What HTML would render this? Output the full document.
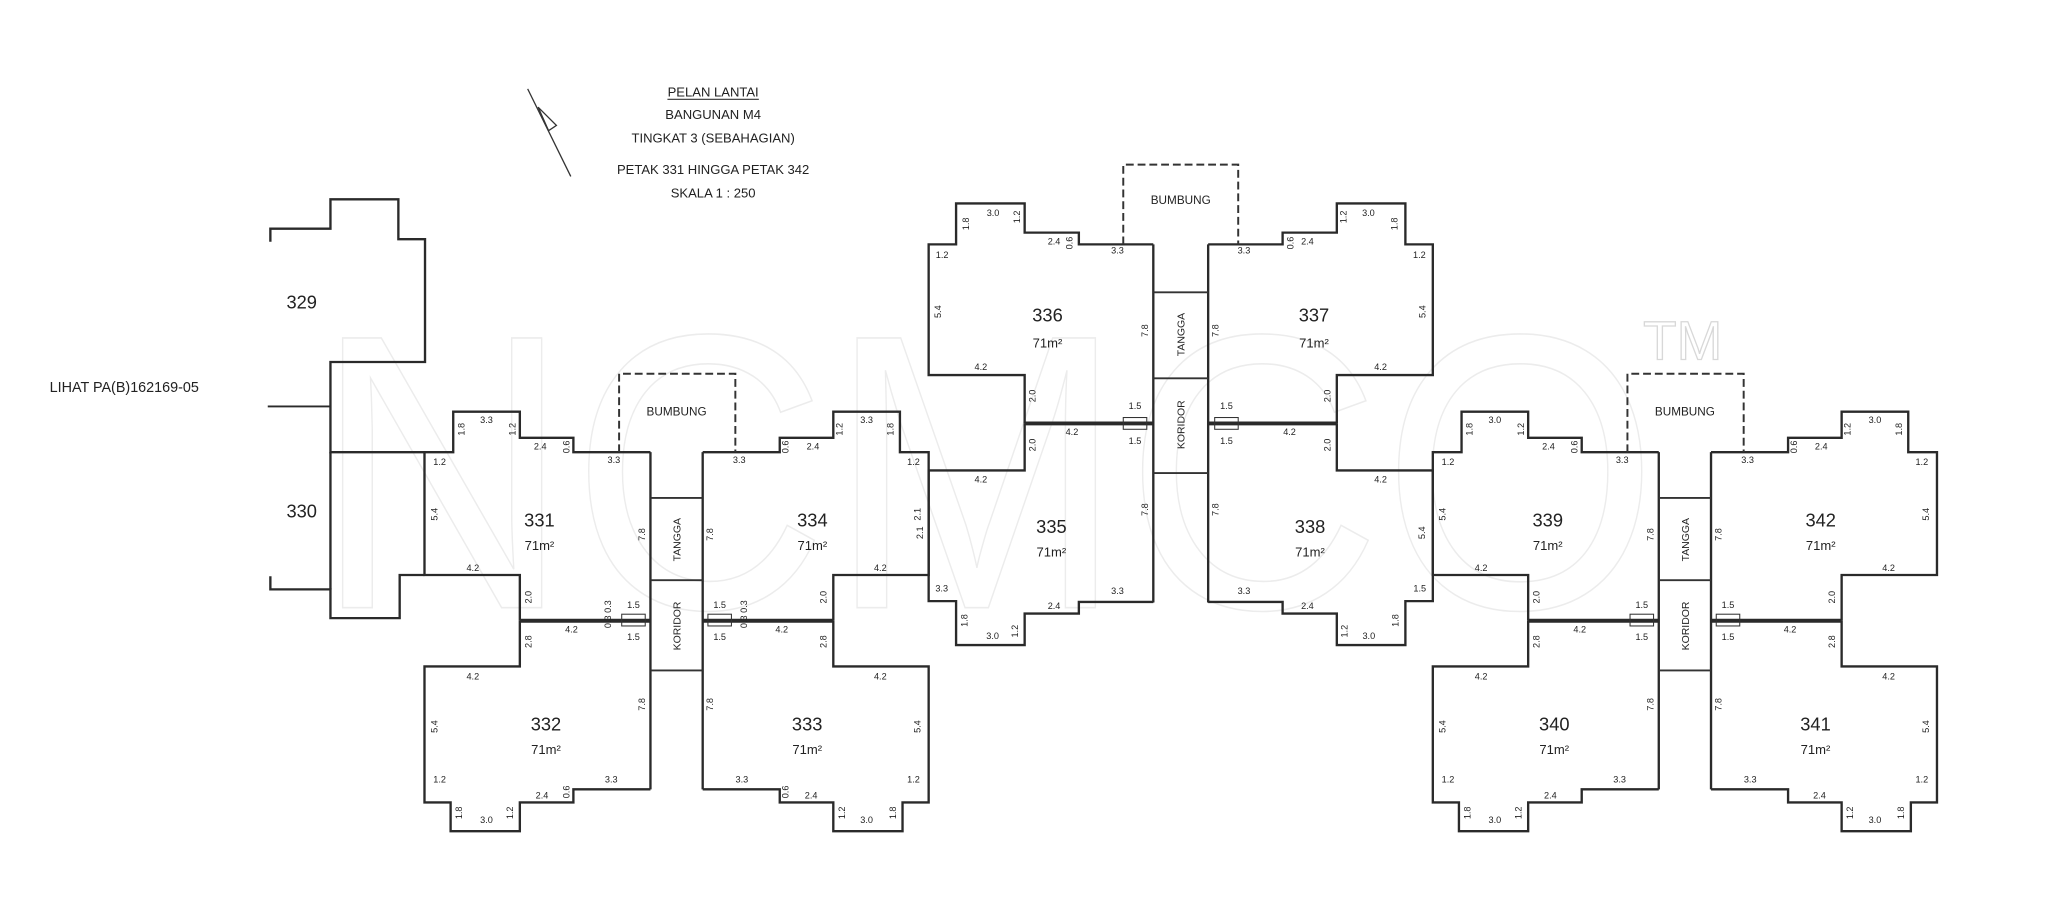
<!DOCTYPE html>
<html><head><meta charset="utf-8"><style>
html,body{margin:0;padding:0;background:#fff;width:2048px;height:920px;overflow:hidden}
svg{display:block}
text{font-family:"Liberation Sans",sans-serif;fill:#222}
.d{font-size:7px;text-anchor:middle;dominant-baseline:middle}
.n{font-size:14px;text-anchor:middle}
.a{font-size:10px;text-anchor:middle}
.w{fill:none;stroke:#2a2a2a;stroke-width:1.8;stroke-linejoin:miter}
.ww{fill:none;stroke:#2a2a2a;stroke-width:3}
.c{fill:none;stroke:#333;stroke-width:1.4}
.b{fill:none;stroke:#333;stroke-width:1.5;stroke-dasharray:6 3}
</style></head><body>
<svg width="2048" height="920" viewBox="0 0 1568 704" preserveAspectRatio="none" xmlns="http://www.w3.org/2000/svg">
<text x="240" y="465" style="font-size:300px;fill:none;stroke:#ececec;stroke-width:1.2" textLength="1030" lengthAdjust="spacingAndGlyphs">NCMCO</text>
<text x="1258" y="275" style="font-size:42px;fill:none;stroke:#d8d8d8;stroke-width:1">TM</text>

<line x1="404" y1="68" x2="437" y2="135" stroke="#333" stroke-width="1"/>
<path d="M412,82 L420,100 L426,96 Z" fill="none" stroke="#333" stroke-width="1"/>
<text x="546" y="74" class="a">PELAN LANTAI</text>
<line x1="511" y1="76" x2="581" y2="76" stroke="#333" stroke-width="0.8"/>
<text x="546" y="91" class="a">BANGUNAN M4</text>
<text x="546" y="109" class="a">TINGKAT 3 (SEBAHAGIAN)</text>
<text x="546" y="133" class="a">PETAK 331 HINGGA PETAK 342</text>
<text x="546" y="151" class="a">SKALA 1 : 250</text>

<path class="w" d="M207,185 L207,175 L253,175 L253,152.5 L305,152.5 L305,183 L325.4,183 L325.4,277 L253,277 L253,346 L325,346"/>
<path class="w" d="M207,441 L207,451 L253,451 L253,473 L306,473 L306,440 L325,440"/>
<line x1="253" y1="346" x2="253" y2="451" stroke="#2a2a2a" stroke-width="1.8"/>
<line x1="205" y1="311" x2="253" y2="311" stroke="#2a2a2a" stroke-width="1.4"/>
<text x="231" y="236" style="font-size:14px" text-anchor="middle">329</text>
<text x="231" y="396" style="font-size:14px" text-anchor="middle">330</text>
<text x="38" y="300" style="font-size:11px">LIHAT PA(B)162169-05</text>

<g id="L">
<path class="w" d="M498,346 L439,346 L439,335 L398,335 L398,315 L347,315 L347,346 L325,346 L325,440 L398,440 L398,475"/>
<path class="w" d="M398,475 L398,510 L325,510 L325,614 L345,614 L345,636 L398,636 L398,614 L439,614 L439,604 L498,604"/>
<path class="w" d="M538,346 L597,346 L597,335 L638,335 L638,315 L689,315 L689,346 L711,346 L711,440 L638,440 L638,475"/>
<path class="w" d="M638,475 L638,510 L711,510 L711,614 L691,614 L691,636 L638,636 L638,614 L597,614 L597,604 L538,604"/>
<line class="w" x1="498" y1="346" x2="498" y2="604"/>
<line class="w" x1="538" y1="346" x2="538" y2="604"/>
<line class="ww" x1="398" y1="475" x2="498" y2="475"/>
<line class="ww" x1="538" y1="475" x2="638" y2="475"/>
<line class="c" x1="498" y1="381" x2="538" y2="381"/>
<line class="c" x1="498" y1="444" x2="538" y2="444"/>
<line class="c" x1="498" y1="513" x2="538" y2="513"/>
<path class="b" d="M474,346 L474,286 L563,286 L563,346"/>
<text x="518" y="318" style="font-size:9px" text-anchor="middle">BUMBUNG</text>
<text transform="translate(521,413) rotate(-90)" style="font-size:8px" text-anchor="middle">TANGGA</text>
<text transform="translate(521,479) rotate(-90)" style="font-size:8px" text-anchor="middle">KORIDOR</text>
<rect x="476" y="470" width="18" height="9" fill="none" stroke="#333" stroke-width="0.8"/>
<rect x="542" y="470" width="18" height="9" fill="none" stroke="#333" stroke-width="0.8"/>
<text class="d" transform="translate(353.7,328.5) rotate(-90)">1.8</text>
<text class="d" x="372.5" y="321.7">3.3</text>
<text class="d" transform="translate(393,328.5) rotate(-90)">1.2</text>
<text class="d" x="413.6" y="342">2.4</text>
<text class="d" transform="translate(434,342) rotate(-90)">0.6</text>
<text class="d" x="470" y="352.4">3.3</text>
<text class="d" x="336.6" y="354">1.2</text>
<text class="d" transform="translate(333,393.5) rotate(-90)">5.4</text>
<text class="d" x="362" y="435">4.2</text>
<text class="d" transform="translate(405,457) rotate(-90)">2.0</text>
<text class="d" transform="translate(492,409) rotate(-90)">7.8</text>
<text class="d" x="437.5" y="482">4.2</text>
<text class="d" x="485" y="463.5">1.5</text>
<text class="d" x="485" y="488">1.5</text>
<text class="d" transform="translate(466,470) rotate(-90)">0.3 0.3</text>
<text class="d" transform="translate(405,491) rotate(-90)">2.8</text>
<text class="d" x="362" y="518">4.2</text>
<text class="d" transform="translate(333,556) rotate(-90)">5.4</text>
<text class="d" transform="translate(492,539) rotate(-90)">7.8</text>
<text class="d" x="336.6" y="597">1.2</text>
<text class="d" x="468" y="597">3.3</text>
<text class="d" x="415" y="609">2.4</text>
<text class="d" transform="translate(434,606) rotate(-90)">0.6</text>
<text class="d" transform="translate(352,622) rotate(-90)">1.8</text>
<text class="d" x="372.5" y="628">3.0</text>
<text class="d" transform="translate(391,622) rotate(-90)">1.2</text>
<text class="d" transform="translate(682.3,328.5) rotate(-90)">1.8</text>
<text class="d" x="663.5" y="321.7">3.3</text>
<text class="d" transform="translate(643,328.5) rotate(-90)">1.2</text>
<text class="d" x="622.4" y="342">2.4</text>
<text class="d" transform="translate(602,342) rotate(-90)">0.6</text>
<text class="d" x="566" y="352.4">3.3</text>
<text class="d" x="699.4" y="354">1.2</text>
<text class="d" transform="translate(703,393.5) rotate(-90)">2.1</text>
<text class="d" x="674" y="435">4.2</text>
<text class="d" transform="translate(631,457) rotate(-90)">2.0</text>
<text class="d" transform="translate(544,409) rotate(-90)">7.8</text>
<text class="d" x="598.5" y="482">4.2</text>
<text class="d" x="551" y="463.5">1.5</text>
<text class="d" x="551" y="488">1.5</text>
<text class="d" transform="translate(570,470) rotate(-90)">0.3 0.3</text>
<text class="d" transform="translate(631,491) rotate(-90)">2.8</text>
<text class="d" x="674" y="518">4.2</text>
<text class="d" transform="translate(703,556) rotate(-90)">5.4</text>
<text class="d" transform="translate(544,539) rotate(-90)">7.8</text>
<text class="d" x="699.4" y="597">1.2</text>
<text class="d" x="568" y="597">3.3</text>
<text class="d" x="621" y="609">2.4</text>
<text class="d" transform="translate(602,606) rotate(-90)">0.6</text>
<text class="d" transform="translate(684,622) rotate(-90)">1.8</text>
<text class="d" x="663.5" y="628">3.0</text>
<text class="d" transform="translate(645,622) rotate(-90)">1.2</text>
</g>
<text class="n" x="413" y="403">331</text><text class="a" x="413" y="421">71m²</text>
<text class="n" x="418" y="559">332</text><text class="a" x="418" y="577">71m²</text>
<text class="n" x="618" y="559">333</text><text class="a" x="618" y="577">71m²</text>
<text class="n" x="622" y="403">334</text><text class="a" x="622" y="421">71m²</text>

<g transform="translate(772,0)">
<path class="w" d="M498,346 L439,346 L439,335 L398,335 L398,315 L347,315 L347,346 L325,346 L325,440 L398,440 L398,475"/>
<path class="w" d="M398,475 L398,510 L325,510 L325,614 L345,614 L345,636 L398,636 L398,614 L439,614 L439,604 L498,604"/>
<path class="w" d="M538,346 L597,346 L597,335 L638,335 L638,315 L689,315 L689,346 L711,346 L711,440 L638,440 L638,475"/>
<path class="w" d="M638,475 L638,510 L711,510 L711,614 L691,614 L691,636 L638,636 L638,614 L597,614 L597,604 L538,604"/>
<line class="w" x1="498" y1="346" x2="498" y2="604"/>
<line class="w" x1="538" y1="346" x2="538" y2="604"/>
<line class="ww" x1="398" y1="475" x2="498" y2="475"/>
<line class="ww" x1="538" y1="475" x2="638" y2="475"/>
<line class="c" x1="498" y1="381" x2="538" y2="381"/>
<line class="c" x1="498" y1="444" x2="538" y2="444"/>
<line class="c" x1="498" y1="513" x2="538" y2="513"/>
<path class="b" d="M474,346 L474,286 L563,286 L563,346"/>
<text x="518" y="318" style="font-size:9px" text-anchor="middle">BUMBUNG</text>
<text transform="translate(521,413) rotate(-90)" style="font-size:8px" text-anchor="middle">TANGGA</text>
<text transform="translate(521,479) rotate(-90)" style="font-size:8px" text-anchor="middle">KORIDOR</text>
<rect x="476" y="470" width="18" height="9" fill="none" stroke="#333" stroke-width="0.8"/>
<rect x="542" y="470" width="18" height="9" fill="none" stroke="#333" stroke-width="0.8"/>
<text class="d" transform="translate(353.7,328.5) rotate(-90)">1.8</text>
<text class="d" x="372.5" y="321.7">3.0</text>
<text class="d" transform="translate(393,328.5) rotate(-90)">1.2</text>
<text class="d" x="413.6" y="342">2.4</text>
<text class="d" transform="translate(434,342) rotate(-90)">0.6</text>
<text class="d" x="470" y="352.4">3.3</text>
<text class="d" x="336.6" y="354">1.2</text>
<text class="d" transform="translate(333,393.5) rotate(-90)">5.4</text>
<text class="d" x="362" y="435">4.2</text>
<text class="d" transform="translate(405,457) rotate(-90)">2.0</text>
<text class="d" transform="translate(492,409) rotate(-90)">7.8</text>
<text class="d" x="437.5" y="482">4.2</text>
<text class="d" x="485" y="463.5">1.5</text>
<text class="d" x="485" y="488">1.5</text>
<text class="d" transform="translate(405,491) rotate(-90)">2.8</text>
<text class="d" x="362" y="518">4.2</text>
<text class="d" transform="translate(333,556) rotate(-90)">5.4</text>
<text class="d" transform="translate(492,539) rotate(-90)">7.8</text>
<text class="d" x="336.6" y="597">1.2</text>
<text class="d" x="468" y="597">3.3</text>
<text class="d" x="415" y="609">2.4</text>
<text class="d" transform="translate(352,622) rotate(-90)">1.8</text>
<text class="d" x="372.5" y="628">3.0</text>
<text class="d" transform="translate(391,622) rotate(-90)">1.2</text>
<text class="d" transform="translate(682.3,328.5) rotate(-90)">1.8</text>
<text class="d" x="663.5" y="321.7">3.0</text>
<text class="d" transform="translate(643,328.5) rotate(-90)">1.2</text>
<text class="d" x="622.4" y="342">2.4</text>
<text class="d" transform="translate(602,342) rotate(-90)">0.6</text>
<text class="d" x="566" y="352.4">3.3</text>
<text class="d" x="699.4" y="354">1.2</text>
<text class="d" transform="translate(703,393.5) rotate(-90)">5.4</text>
<text class="d" x="674" y="435">4.2</text>
<text class="d" transform="translate(631,457) rotate(-90)">2.0</text>
<text class="d" transform="translate(544,409) rotate(-90)">7.8</text>
<text class="d" x="598.5" y="482">4.2</text>
<text class="d" x="551" y="463.5">1.5</text>
<text class="d" x="551" y="488">1.5</text>
<text class="d" transform="translate(631,491) rotate(-90)">2.8</text>
<text class="d" x="674" y="518">4.2</text>
<text class="d" transform="translate(703,556) rotate(-90)">5.4</text>
<text class="d" transform="translate(544,539) rotate(-90)">7.8</text>
<text class="d" x="699.4" y="597">1.2</text>
<text class="d" x="568" y="597">3.3</text>
<text class="d" x="621" y="609">2.4</text>
<text class="d" transform="translate(684,622) rotate(-90)">1.8</text>
<text class="d" x="663.5" y="628">3.0</text>
<text class="d" transform="translate(645,622) rotate(-90)">1.2</text>
</g>
<text class="n" x="1185" y="403">339</text><text class="a" x="1185" y="421">71m²</text>
<text class="n" x="1190" y="559">340</text><text class="a" x="1190" y="577">71m²</text>
<text class="n" x="1390" y="559">341</text><text class="a" x="1390" y="577">71m²</text>
<text class="n" x="1394" y="403">342</text><text class="a" x="1394" y="421">71m²</text>

<path class="w" d="M883,187 L826,187 L826,178 L784.5,178 L784.5,155.7 L732,155.7 L732,187 L711,187 L711,287 L784.5,287 L784.5,324"/>
<path class="w" d="M784.5,324 L784.5,360 L711,360 L711,460 L732,460 L732,493.6 L784.5,493.6 L784.5,469.5 L826,469.5 L826,460.6 L883,460.6"/>
<path class="w" d="M925,187 L982,187 L982,178 L1023.5,178 L1023.5,155.7 L1076,155.7 L1076,187 L1097,187 L1097,287 L1023.5,287 L1023.5,324"/>
<path class="w" d="M1023.5,324 L1023.5,360 L1097,360 L1097,460 L1076,460 L1076,493.6 L1023.5,493.6 L1023.5,469.5 L982,469.5 L982,460.6 L925,460.6"/>
<line class="w" x1="883" y1="187" x2="883" y2="461"/>
<line class="w" x1="925" y1="187" x2="925" y2="461"/>
<line class="ww" x1="784.5" y1="324" x2="883" y2="324"/>
<line class="ww" x1="925" y1="324" x2="1023.5" y2="324"/>
<line class="c" x1="883" y1="223.7" x2="925" y2="223.7"/>
<line class="c" x1="883" y1="289.5" x2="925" y2="289.5"/>
<line class="c" x1="883" y1="362" x2="925" y2="362"/>
<path class="b" d="M860,187 L860,126 L948,126 L948,187"/>
<text x="904" y="156" style="font-size:9px" text-anchor="middle">BUMBUNG</text>
<text transform="translate(907,256) rotate(-90)" style="font-size:8px" text-anchor="middle">TANGGA</text>
<text transform="translate(907,325) rotate(-90)" style="font-size:8px" text-anchor="middle">KORIDOR</text>
<rect x="860" y="319.5" width="18" height="9" fill="none" stroke="#333" stroke-width="0.8"/>
<rect x="930" y="319.5" width="18" height="9" fill="none" stroke="#333" stroke-width="0.8"/>
<text class="n" x="802" y="246">336</text><text class="a" x="802" y="266">71m²</text>
<text class="n" x="805" y="408">335</text><text class="a" x="805" y="426">71m²</text>
<text class="n" x="1006" y="246">337</text><text class="a" x="1006" y="266">71m²</text>
<text class="n" x="1003" y="408">338</text><text class="a" x="1003" y="426">71m²</text>
<text class="d" transform="translate(740,171.3) rotate(-90)">1.8</text>
<text class="d" x="760.3" y="163.3">3.0</text>
<text class="d" transform="translate(779,166) rotate(-90)">1.2</text>
<text class="d" x="807" y="185.3">2.4</text>
<text class="d" transform="translate(819.4,186) rotate(-90)">0.6</text>
<text class="d" x="855.6" y="192">3.3</text>
<text class="d" x="721.3" y="195.5">1.2</text>
<text class="d" transform="translate(718.6,238.5) rotate(-90)">5.4</text>
<text class="d" transform="translate(877,253) rotate(-90)">7.8</text>
<text class="d" x="751" y="281.4">4.2</text>
<text class="d" transform="translate(791,303) rotate(-90)">2.0</text>
<text class="d" x="820.7" y="331">4.2</text>
<text class="d" x="869" y="311">1.5</text>
<text class="d" x="869" y="338">1.5</text>
<text class="d" transform="translate(791,340.5) rotate(-90)">2.0</text>
<text class="d" x="751" y="367.4">4.2</text>
<text class="d" transform="translate(705,407.7) rotate(-90)">2.1</text>
<text class="d" transform="translate(877,390) rotate(-90)">7.8</text>
<text class="d" x="721" y="450.6">3.3</text>
<text class="d" x="855.6" y="452.8">3.3</text>
<text class="d" x="807" y="464">2.4</text>
<text class="d" transform="translate(738.8,474.8) rotate(-90)">1.8</text>
<text class="d" x="760" y="487">3.0</text>
<text class="d" transform="translate(777.7,483) rotate(-90)">1.2</text>
<text class="d" transform="translate(1068,171.3) rotate(-90)">1.8</text>
<text class="d" x="1047.7" y="163.3">3.0</text>
<text class="d" transform="translate(1029,166) rotate(-90)">1.2</text>
<text class="d" x="1001" y="185.3">2.4</text>
<text class="d" transform="translate(988.6,186) rotate(-90)">0.6</text>
<text class="d" x="952.4" y="192">3.3</text>
<text class="d" x="1086.7" y="195.5">1.2</text>
<text class="d" transform="translate(1089.4,238.5) rotate(-90)">5.4</text>
<text class="d" transform="translate(931,253) rotate(-90)">7.8</text>
<text class="d" x="1057" y="281.4">4.2</text>
<text class="d" transform="translate(1017,303) rotate(-90)">2.0</text>
<text class="d" x="987.3" y="331">4.2</text>
<text class="d" x="939" y="311">1.5</text>
<text class="d" x="939" y="338">1.5</text>
<text class="d" transform="translate(1017,340.5) rotate(-90)">2.0</text>
<text class="d" x="1057" y="367.4">4.2</text>
<text class="d" transform="translate(1089,407.7) rotate(-90)">5.4</text>
<text class="d" transform="translate(931,390) rotate(-90)">7.8</text>
<text class="d" x="1087" y="450.6">1.5</text>
<text class="d" x="952.4" y="452.8">3.3</text>
<text class="d" x="1001" y="464">2.4</text>
<text class="d" transform="translate(1069,474.8) rotate(-90)">1.8</text>
<text class="d" x="1048" y="487">3.0</text>
<text class="d" transform="translate(1030,483) rotate(-90)">1.2</text>
</svg>
</body></html>
